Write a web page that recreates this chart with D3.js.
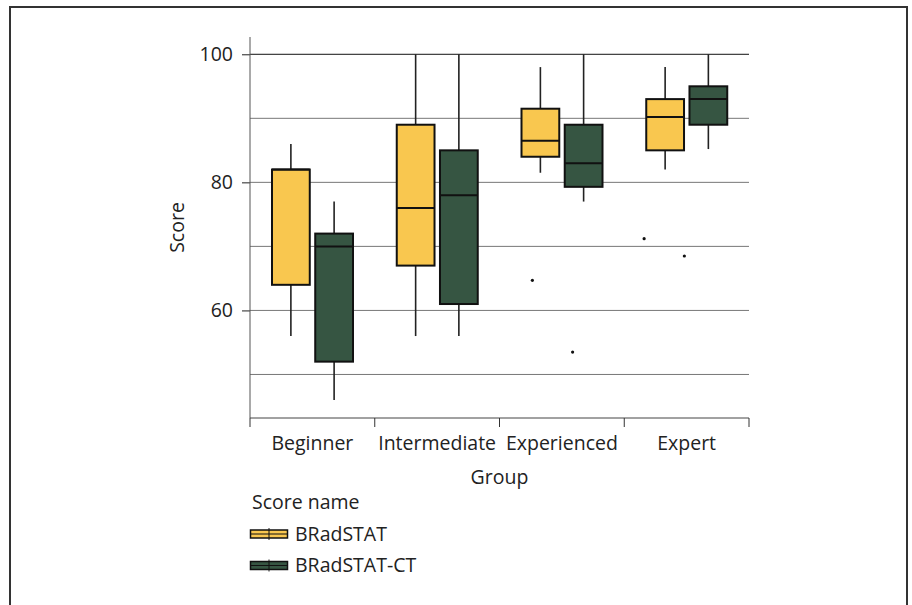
<!DOCTYPE html>
<html>
<head>
<meta charset="utf-8">
<script src="https://cdn.jsdelivr.net/npm/d3@7"></script>
<style>
  body { margin: 0; background: #fff; }
  text { font-family: "Open Sans", "Noto Sans", sans-serif; fill: #222; }
</style>
</head>
<body>
<div id="chart"></div>
<script>
// chart data
const groups = ['Beginner', 'Intermediate', 'Experienced', 'Expert'];
const seriesNames = ['BRadSTAT', 'BRadSTAT-CT'];
const seriesColors = ['#f9c74f', '#365542'];

// [whisker low, q1, median, q3, whisker high] per group
const bradstat = [
  [56, 64, 82, 82, 86],
  [56, 67, 76, 89, 100],
  [81.5, 84, 86.5, 91.5, 98],
  [82, 85, 90.2, 93, 98]
];
const bradstatCT = [
  [46, 52, 70, 72, 77],
  [56, 61, 78, 85, 100],
  [77, 79.3, 83, 89, 100],
  [85.2, 89, 93, 95, 100]
];
const bradstatOutliers = [[], [], [64.7], [71.2]];
const bradstatCTOutliers = [[], [], [53.5], [68.5]];

const yTicks = [60, 80, 100];
const yGrid = [50, 60, 70, 80, 90, 100];

const width = 912;
const height = 605;
const fontSize = 19.5;

const svg = d3.select('#chart').append('svg')
    .attr('width', width)
    .attr('height', height);

// outer frame
svg.append('rect')
    .attr('x', 10).attr('y', 7)
    .attr('width', 897).attr('height', 640)
    .attr('fill', 'none')
    .attr('stroke', '#333')
    .attr('stroke-width', 2);

const plot = {left: 250, right: 749, top: 37, bottom: 418};

const x = d3.scaleBand()
    .domain(groups)
    .range([plot.left, plot.right])
    .padding(0);

const xs = d3.scaleBand()
    .domain(seriesNames)
    .range([21, 104])
    .paddingInner(0.08);

const y = d3.scaleLinear()
    .domain([43.2, 102.7])
    .range([plot.bottom, plot.top]);

// gridlines
svg.append('g').selectAll('line')
    .data(yGrid)
  .enter().append('line')
    .attr('x1', plot.left).attr('x2', plot.right)
    .attr('y1', d => y(d)).attr('y2', d => y(d))
    .attr('stroke', d => d === 100 ? '#111' : '#777')
    .attr('stroke-width', 1);

// y axis
const yAxis = svg.append('g')
    .attr('transform', 'translate(' + plot.left + ',0)')
    .call(d3.axisLeft(y).tickValues(yTicks).tickSize(8).tickPadding(9).tickSizeOuter(0));
yAxis.select('.domain').remove();
yAxis.selectAll('.tick line').attr('stroke', '#222');
yAxis.selectAll('.tick text')
    .attr('font-size', fontSize)
    .attr('font-family', '"Open Sans", sans-serif')
    .attr('fill', '#222');

svg.append('line')
    .attr('x1', plot.left).attr('x2', plot.left)
    .attr('y1', plot.top).attr('y2', plot.bottom)
    .attr('stroke', '#555');

// x axis
const xAxis = svg.append('g')
    .attr('transform', 'translate(0,' + plot.bottom + ')')
    .call(d3.axisBottom(x).tickSize(0).tickPadding(18));
xAxis.select('.domain').attr('stroke', '#444').attr('d', 'M' + plot.left + ',0H' + plot.right);
xAxis.selectAll('.tick text')
    .attr('font-size', fontSize)
    .attr('font-family', '"Open Sans", sans-serif')
    .attr('fill', '#222');

// group separator ticks
const edges = groups.map(g => x(g)).concat([x(groups[groups.length - 1]) + x.bandwidth()]);
svg.append('g').selectAll('line')
    .data(edges)
  .enter().append('line')
    .attr('x1', d => d).attr('x2', d => d)
    .attr('y1', plot.bottom).attr('y2', plot.bottom + 9)
    .attr('stroke', '#333');

// axis titles
svg.append('text')
    .attr('x', (plot.left + plot.right) / 2)
    .attr('y', 484)
    .attr('text-anchor', 'middle')
    .attr('font-size', fontSize)
    .text('Group');

svg.append('text')
    .attr('transform', 'translate(184,' + (plot.top + plot.bottom) / 2 + ') rotate(-90)')
    .attr('text-anchor', 'middle')
    .attr('font-size', fontSize)
    .text('Score');

// boxes
const seriesData = [
  {name: seriesNames[0], color: seriesColors[0], stats: bradstat, outliers: bradstatOutliers},
  {name: seriesNames[1], color: seriesColors[1], stats: bradstatCT, outliers: bradstatCTOutliers}
];

// horizontal nudge for outlier dots (px, per group)
const outlierShift = [[0, 0, -8, -21], [0, 0, -11, -24]];

const boxW = xs.bandwidth() - 2;

seriesData.forEach((s, si) => {
  const g = svg.append('g');
  s.stats.forEach((st, gi) => {
    const cx = x(groups[gi]) + xs(s.name) + xs.bandwidth() / 2;
    // whiskers
    g.append('line')
        .attr('x1', cx).attr('x2', cx)
        .attr('y1', y(st[4])).attr('y2', y(st[3]))
        .attr('stroke', '#222').attr('stroke-width', 1.6);
    g.append('line')
        .attr('x1', cx).attr('x2', cx)
        .attr('y1', y(st[1])).attr('y2', y(st[0]))
        .attr('stroke', '#222').attr('stroke-width', 1.6);
    // box
    g.append('rect')
        .attr('x', cx - boxW / 2)
        .attr('y', y(st[3]))
        .attr('width', boxW)
        .attr('height', y(st[1]) - y(st[3]))
        .attr('fill', s.color)
        .attr('stroke', '#111')
        .attr('stroke-width', 2);
    // median
    g.append('line')
        .attr('x1', cx - boxW / 2).attr('x2', cx + boxW / 2)
        .attr('y1', y(st[2])).attr('y2', y(st[2]))
        .attr('stroke', '#111').attr('stroke-width', 2);
    // outliers
    s.outliers[gi].forEach(v => {
      g.append('circle')
          .attr('cx', cx + outlierShift[si][gi])
          .attr('cy', y(v))
          .attr('r', 1.6)
          .attr('fill', '#111');
    });
  });
});

// legend
const legend = svg.append('g').attr('transform', 'translate(250,0)');
legend.append('text')
    .attr('x', 2).attr('y', 509)
    .attr('font-size', fontSize)
    .text('Score name');

seriesData.forEach((s, i) => {
  const ly = 534 + i * 31.5;
  const item = legend.append('g').attr('transform', 'translate(0,' + ly + ')');
  item.append('line')
      .attr('x1', 19).attr('x2', 19).attr('y1', -6).attr('y2', 6)
      .attr('stroke', '#222').attr('stroke-width', 1);
  item.append('rect')
      .attr('x', 0.5).attr('y', -4)
      .attr('width', 37).attr('height', 8)
      .attr('fill', s.color)
      .attr('stroke', '#111')
      .attr('stroke-width', 1.5);
  item.append('line')
      .attr('x1', 0.5).attr('x2', 37.5).attr('y1', 0).attr('y2', 0)
      .attr('stroke', '#111').attr('stroke-width', 1.2);
  item.append('line')
      .attr('x1', 19).attr('x2', 19).attr('y1', -4).attr('y2', 4)
      .attr('stroke', '#111').attr('stroke-width', 1);
  item.append('text')
      .attr('x', 45).attr('y', 0)
      .attr('dy', '0.35em')
      .attr('font-size', fontSize)
      .text(s.name);
});
</script>
</body>
</html>
